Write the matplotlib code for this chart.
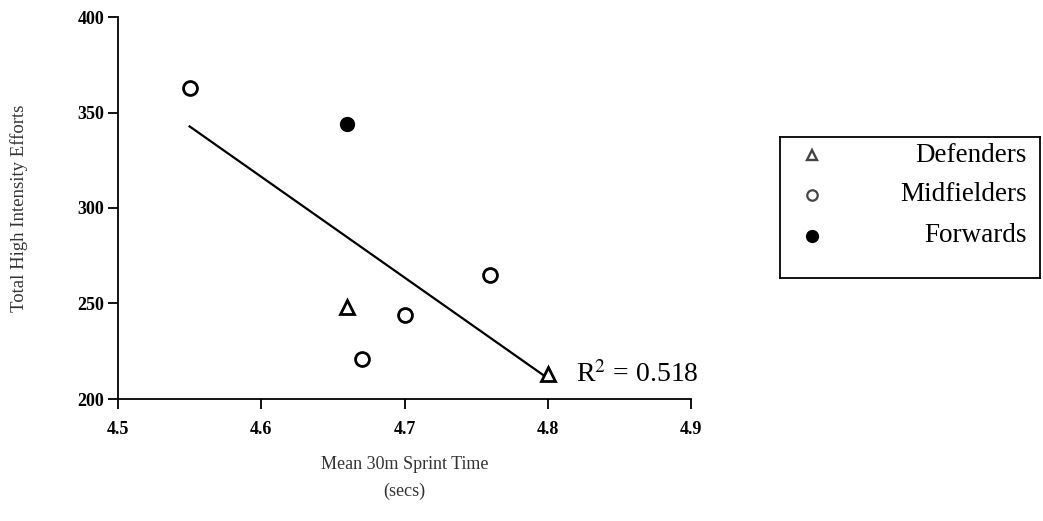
import numpy as np
import matplotlib
matplotlib.use("Agg")
import matplotlib.pyplot as plt

# Data
groups = ["Defenders", "Midfielders", "Forwards"]
def_x = [4.66, 4.80]
def_y = [248, 213]
mid_x = [4.55, 4.67, 4.70, 4.76]
mid_y = [363, 221, 244, 265]
fwd_x = [4.66]
fwd_y = [344]
r2_label = "0.518"

x_ticks = [4.5, 4.6, 4.7, 4.8, 4.9]
y_ticks = [200, 250, 300, 350, 400]

plt.rcParams["font.family"] = ["Liberation Serif", "DejaVu Serif"]
plt.rcParams["mathtext.fontset"] = "stix"

fig = plt.figure(figsize=(10.43, 5.21), dpi=100)
ax = fig.add_axes([118 / 1043, 1 - 399 / 521, 573 / 1043, 382 / 521])

# scatter points
ax.plot(def_x, def_y, linestyle="none", marker="^", markersize=10,
        markerfacecolor="white", markeredgecolor="black", markeredgewidth=2, clip_on=False)
ax.plot(mid_x, mid_y, linestyle="none", marker="o", markersize=10,
        markerfacecolor="white", markeredgecolor="black", markeredgewidth=2, clip_on=False)
ax.plot(fwd_x, fwd_y, linestyle="none", marker="o", markersize=10,
        markerfacecolor="black", markeredgecolor="black", clip_on=False)

# linear fit over all players
all_x = np.array(def_x + mid_x + fwd_x)
all_y = np.array(def_y + mid_y + fwd_y)
slope, intercept = np.polyfit(all_x, all_y, 1)
fit_x = np.array([all_x.min(), all_x.max()])
ax.plot(fit_x, slope * fit_x + intercept, color="black", linewidth=1.6, zorder=1)

ax.text(4.82, 213, r"R$^2$ = " + r2_label, fontsize=20, va="center", ha="left")

ax.set_xlim(4.5, 4.9)
ax.set_ylim(200, 400)
ax.set_xticks(x_ticks)
ax.set_yticks(y_ticks)
ax.set_xticklabels([f"{t:.1f}" for t in x_ticks], fontweight="bold", fontsize=13)
ax.set_yticklabels([str(t) for t in y_ticks], fontweight="bold", fontsize=13)
ax.tick_params(axis="both", direction="out", length=7, width=1.3, color="black")
ax.tick_params(axis="x", pad=9)
ax.tick_params(axis="y", pad=3)

for side in ["top", "right"]:
    ax.spines[side].set_visible(False)
for side in ["left", "bottom"]:
    ax.spines[side].set_linewidth(1.3)

ax.set_ylabel("Total High Intensity Efforts", fontsize=13.5, color="#333333")
ax.yaxis.set_label_coords(-0.157, 0.5)
ax.set_xlabel("Mean 30m Sprint Time\n(secs)", fontsize=13, color="#333333",
              linespacing=1.7)
ax.xaxis.set_label_coords(0.5, -0.15)
ax.xaxis.label.set_va("top")

# legend box
lax = fig.add_axes([780 / 1043, 1 - 278 / 521, 260 / 1043, 141 / 521])
lax.set_xlim(0, 1)
lax.set_ylim(0, 1)
lax.set_xticks([])
lax.set_yticks([])
for s in lax.spines.values():
    s.set_linewidth(1.3)
rows = [0.872, 0.589, 0.298]
lax.plot([0.123], [rows[0]], marker="^", markersize=7.5, markerfacecolor="white",
         markeredgecolor="#444444", markeredgewidth=1.7, linestyle="none")
lax.plot([0.123], [rows[1]], marker="o", markersize=7.5, markerfacecolor="white",
         markeredgecolor="#444444", markeredgewidth=1.6, linestyle="none")
lax.plot([0.123], [rows[2]], marker="o", markersize=8.5, markerfacecolor="black",
         markeredgecolor="black", linestyle="none")
for name, yy in zip(groups, rows):
    lax.text(0.95, yy, name, fontsize=19.5, ha="right", va="center")

fig.savefig("out.png", dpi=100)
